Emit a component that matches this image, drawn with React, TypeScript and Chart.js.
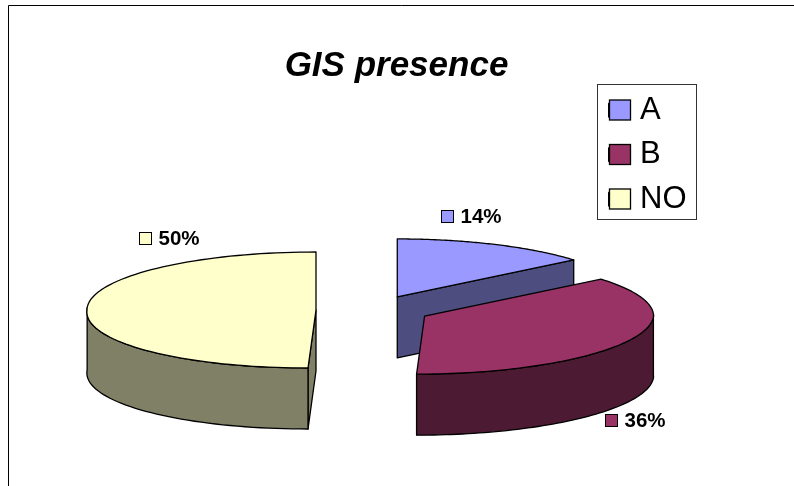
import React, { useEffect, useRef } from "react";
import { Chart, registerables } from "chart.js";

Chart.register(...registerables);

const categories = ["A", "B", "NO"];
const shares = [14, 36, 50];
const faceColors = ["#9999FF", "#993366", "#FFFFCC"];
const wallColors = ["#4D4D80", "#4D1A33", "#808066"];
const paintOrder = [0, 2, 1];
const labelNudges = [
  [-24, -28],
  [3, 18],
  [82, -72],
];

const RADIUS = 229;
const EXPLODE = 57;
const TILT = 0.2533;
const DEPTH = 61;
const LEAN = 8;
const FONT = "'Liberation Sans', Arial, sans-serif";

type Pt = [number, number];

const threeD = {
  id: "threeD",
  beforeDraw(chart: any) {
    const { ctx, width, height } = chart;
    ctx.save();
    ctx.fillStyle = "#fff";
    ctx.fillRect(0, 0, width, height);
    ctx.strokeStyle = "#000";
    ctx.lineWidth = 1;
    ctx.beginPath();
    ctx.moveTo(0.5, height);
    ctx.lineTo(0.5, 0.5);
    ctx.lineTo(width, 0.5);
    ctx.stroke();
    ctx.strokeStyle = "#333";
    ctx.strokeRect(589.5, 79.5, 99, 135);
    ctx.restore();
    const lg = chart.legend;
    lg.left = 587;
    lg.right = lg.left + 100;
    lg.top = 76.2;
    lg.bottom = 300;
    const tb = chart.titleBlock;
    tb.left = -0.5;
    tb.right = 777.5;
  },
  beforeDatasetsDraw(chart: any) {
    const { ctx } = chart;
    const meta = chart.getDatasetMeta(0);
    const project = (cx: number, cy: number, a: number, r: number): Pt => {
      const fromTop = a + Math.PI / 2;
      const down = -Math.cos(fromTop);
      return [
        cx + r * Math.sin(fromTop) - (r / RADIUS) * LEAN * Math.max(0, down),
        cy + r * TILT * down,
      ];
    };
    const poly = (pts: Pt[], fill: string) => {
      ctx.beginPath();
      pts.forEach((p, i) => (i ? ctx.lineTo(p[0], p[1]) : ctx.moveTo(p[0], p[1])));
      ctx.closePath();
      ctx.fillStyle = fill;
      ctx.fill();
      ctx.lineJoin = "round";
      ctx.strokeStyle = "#000";
      ctx.lineWidth = 1.3;
      ctx.stroke();
    };
    const shift = (pts: Pt[]): Pt[] => pts.map((p) => [p[0], p[1] + DEPTH] as Pt);

    ctx.save();
    paintOrder.forEach((i) => {
      const arc = meta.data[i];
      const { x, y, startAngle, endAngle, outerRadius } = arc.getProps(
        ["x", "y", "startAngle", "endAngle", "outerRadius"],
        true
      );
      const mid = (startAngle + endAngle) / 2;
      const off = arc.options.offset;
      const cx = x + Math.cos(mid) * off;
      const cy = y + Math.sin(mid) * off * TILT;
      const center: Pt = [cx, cy];
      const rim: Pt[] = [];
      const steps = 90;
      for (let s = 0; s <= steps; s++) {
        rim.push(project(cx, cy, startAngle + ((endAngle - startAngle) * s) / steps, outerRadius));
      }
      const first = rim[0];
      const last = rim[rim.length - 1];
      if (i === 0) {
        // rear slice: only the cut face along its clockwise edge shows
        poly([center, last, ...shift([last, center])], wallColors[i]);
      } else {
        // front slices: cut face at the bottom edge, then the front of the rim
        if (first[1] > cy && first[0] < cx) {
          poly([center, first, ...shift([first, center])], wallColors[i]);
        }
        const front = rim.filter((p) => p[1] >= cy - 3);
        poly([...front, ...shift(front).reverse()], wallColors[i]);
      }
      poly([center, ...rim], faceColors[i]);
    });
    ctx.restore();
    return false;
  },
  afterDraw(chart: any) {
    const { ctx } = chart;
    const meta = chart.getDatasetMeta(0);
    const total = shares.reduce((a, b) => a + b, 0);
    ctx.save();
    // legend keys: wider than the label gap Chart.js reserves
    faceColors.forEach((c, i) => {
      ctx.fillStyle = c;
      ctx.strokeStyle = "#000";
      ctx.lineWidth = 1.3;
      const ky = 95 + i * 44.5;
      ctx.fillRect(601.5, ky, 21, 20);
      ctx.strokeRect(601.5, ky, 21, 20);
    });
    ctx.textBaseline = "middle";
    ctx.textAlign = "left";
    ctx.font = `bold 20.5px ${FONT}`;
    meta.data.forEach((arc: any, i: number) => {
      const { x, y, startAngle, endAngle, outerRadius } = arc.getProps(
        ["x", "y", "startAngle", "endAngle", "outerRadius"],
        true
      );
      const mid = (startAngle + endAngle) / 2;
      const reach = outerRadius + arc.options.offset;
      const lowered = Math.sin(mid) > 0.01 ? DEPTH : 0;
      const px = x + Math.cos(mid) * reach + labelNudges[i][0];
      const py = y + Math.sin(mid) * reach * TILT + lowered + labelNudges[i][1];
      const text = `${Math.round((shares[i] / total) * 100)}%`;
      const w = ctx.measureText(text).width;
      const key = 12;
      const left = Math.round(px - (w + key + 6) / 2);
      const top = Math.round(py - key / 2);
      ctx.fillStyle = faceColors[i];
      ctx.fillRect(left + 0.5, top + 0.5, key, key);
      ctx.strokeStyle = "#000";
      ctx.lineWidth = 1;
      ctx.strokeRect(left + 0.5, top + 0.5, key, key);
      ctx.fillStyle = "#000";
      ctx.fillText(text, left + key + 7.5, py + 1);
    });
    ctx.restore();
  },
};

export default function App() {
  const ref = useRef<HTMLCanvasElement>(null);
  useEffect(() => {
    const chart = new Chart(ref.current as HTMLCanvasElement, {
      type: "pie",
      data: {
        labels: categories,
        datasets: [
          {
            data: shares,
            backgroundColor: faceColors,
            borderColor: "#000",
            borderWidth: 1,
            offset: EXPLODE,
            radius: RADIUS,
            clip: false,
          } as any,
        ],
      },
      options: {
        responsive: false,
        animation: false,
        events: [],
        layout: { padding: { left: 45.5, right: 0, top: 40, bottom: 0 } },
        plugins: {
          title: {
            display: true,
            text: "GIS presence",
            color: "#000",
            font: { family: FONT, size: 35, weight: "bold", style: "italic" },
            padding: { top: 0, bottom: 47 },
          },
          tooltip: { enabled: false },
          legend: {
            position: "right",
            align: "start",
            labels: {
              color: "#000",
              font: { family: FONT, size: 31 },
              boxWidth: 16,
              boxHeight: 14,
              padding: 13.5,
            },
          },
        },
      },
      plugins: [threeD],
    } as any);
    return () => chart.destroy();
  }, []);
  return (
    <div style={{ position: "absolute", left: 8, top: 5 }}>
      <canvas ref={ref} width={786} height={481} style={{ display: "block" }} />
    </div>
  );
}
